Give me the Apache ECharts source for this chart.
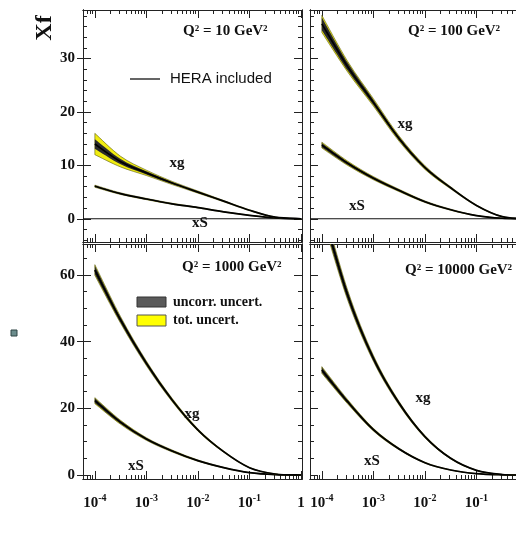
<!DOCTYPE html>
<html><head><meta charset="utf-8">
<script src="https://cdn.jsdelivr.net/npm/echarts@6/dist/echarts.min.js"></script>
<style>html,body{margin:0;padding:0;background:#fff;overflow:hidden}#c{width:516px;height:539px}</style>
</head><body><div id="c"></div>
<script>
// x positions as exponents: x = 10^xExp
const xExp = [-4, -3.5, -3, -2.5, -2, -1.5, -1, -0.5, 0];
const q2Labels = ['10', '100', '1000', '10000'];
const xTickLabels = [-4, -3, -2, -1, 0];
const yTickTop = [0, 10, 20, 30];
const yTickBottom = [0, 20, 40, 60];

// Q2 = 10 GeV2
const xg10 = [14.0, 10.7, 8.6, 6.7, 5.0, 3.3, 1.6, 0.3, 0];
const xg10Tot = [2.0, 1.0, 0.5, 0.3, 0.2, 0.12, 0.08, 0.05, 0];
const xg10Unc = [0.9, 0.5, 0.3, 0.2, 0.12, 0.08, 0.05, 0.03, 0];
const xS10 = [6.1, 4.7, 3.7, 2.8, 2.1, 1.3, 0.65, 0.15, 0];
const xS10Tot = [0.2, 0.15, 0.12, 0.1, 0.08, 0.06, 0.04, 0.02, 0];
const xS10Unc = [0.12, 0.1, 0.08, 0.06, 0.05, 0.04, 0.03, 0.01, 0];
// Q2 = 100 GeV2
const xg100 = [36.5, 28.5, 21.8, 15.0, 9.6, 5.8, 2.5, 0.4, 0];
const xg100Tot = [1.6, 1.0, 0.7, 0.5, 0.35, 0.2, 0.1, 0.05, 0];
const xg100Unc = [1.2, 0.75, 0.5, 0.35, 0.25, 0.15, 0.08, 0.04, 0];
const xS100 = [13.8, 10.4, 7.6, 5.3, 3.2, 1.7, 0.6, 0.1, 0];
const xS100Tot = [0.55, 0.4, 0.3, 0.22, 0.15, 0.1, 0.05, 0.02, 0];
const xS100Unc = [0.4, 0.3, 0.22, 0.16, 0.11, 0.07, 0.04, 0.01, 0];
// Q2 = 1000 GeV2
const xg1000 = [61.5, 46.5, 33.5, 22.5, 13.5, 7.0, 2.2, 0.3, 0];
const xg1000Tot = [1.6, 1.0, 0.7, 0.5, 0.35, 0.2, 0.1, 0.04, 0];
const xg1000Unc = [1.3, 0.8, 0.55, 0.4, 0.27, 0.15, 0.07, 0.03, 0];
const xS1000 = [22.3, 15.8, 10.8, 7.2, 4.3, 2.2, 0.7, 0.1, 0];
const xS1000Tot = [0.9, 0.6, 0.4, 0.3, 0.2, 0.12, 0.06, 0.02, 0];
const xS1000Unc = [0.7, 0.45, 0.3, 0.22, 0.15, 0.09, 0.04, 0.01, 0];
// Q2 = 10000 GeV2
const xg10000 = [80, 54, 35, 21.5, 11.5, 5.0, 1.4, 0.15, 0];
const xg10000Tot = [2.4, 1.5, 0.9, 0.55, 0.33, 0.2, 0.09, 0.04, 0];
const xg10000Unc = [2.0, 1.3, 0.8, 0.5, 0.3, 0.18, 0.08, 0.03, 0];
const xS10000 = [31.5, 22.0, 13.6, 7.8, 3.7, 1.5, 0.4, 0.05, 0];
const xS10000Tot = [1.0, 0.65, 0.4, 0.25, 0.15, 0.08, 0.04, 0.01, 0];
const xS10000Unc = [0.8, 0.5, 0.32, 0.2, 0.12, 0.06, 0.03, 0.01, 0];

const panels = [
  {xg: xg10, xgT: xg10Tot, xgU: xg10Unc, xS: xS10, xST: xS10Tot, xSU: xS10Unc},
  {xg: xg100, xgT: xg100Tot, xgU: xg100Unc, xS: xS100, xST: xS100Tot, xSU: xS100Unc},
  {xg: xg1000, xgT: xg1000Tot, xgU: xg1000Unc, xS: xS1000, xST: xS1000Tot, xSU: xS1000Unc},
  {xg: xg10000, xgT: xg10000Tot, xgU: xg10000Unc, xS: xS10000, xST: xS10000Tot, xSU: xS10000Unc}
];

const X_MIN = -4.23, X_MAX = 0.02;
const Y_TOP = [-4.35, 39.1], Y_BOT = [-1.2, 69.3];
const grids = [
  {left: 83, top: 10, width: 219, height: 232, outerBoundsMode: 'none', containLabel: false},
  {left: 310, top: 10, width: 219, height: 232, outerBoundsMode: 'none', containLabel: false},
  {left: 83, top: 244, width: 219, height: 235, outerBoundsMode: 'none', containLabel: false},
  {left: 310, top: 244, width: 219, height: 235, outerBoundsMode: 'none', containLabel: false}
];

const xMinor = [];
for (let n = -5; n <= -1; n++) for (let k = 2; k <= 9; k++) {
  const v = n + Math.log10(k);
  if (v > X_MIN && v < X_MAX) xMinor.push(v);
}
function yMinor(range, step, majors) {
  const out = [];
  for (let v = Math.ceil(range[0] / step) * step; v <= range[1]; v += step) {
    if (majors.indexOf(v) < 0) out.push(v);
  }
  return out;
}

const AX = '#222';
const serif = '"Liberation Serif", "DejaVu Serif", serif';
const labRich = {
  b: {fontFamily: serif, fontWeight: 'bold', fontSize: 15, color: '#111', lineHeight: 18, verticalAlign: 'bottom'},
  s: {fontFamily: serif, fontWeight: 'bold', fontSize: 10, color: '#111', lineHeight: 10, verticalAlign: 'top'}
};

const xAxes = [], yAxes = [];
grids.forEach((g, gi) => {
  const bottomRow = gi >= 2, leftCol = gi % 2 === 0;
  const yr = bottomRow ? Y_BOT : Y_TOP;
  const ymaj = bottomRow ? yTickBottom : yTickTop;
  const ymin = yMinor(yr, bottomRow ? 5 : 2, ymaj);
  const xa = (pos, vals, len, lab) => ({
    type: 'value', gridIndex: gi, position: pos, min: X_MIN, max: X_MAX,
    axisLine: {show: true, onZero: false, lineStyle: {color: AX, width: 1}},
    axisTick: {show: true, inside: true, length: len, customValues: vals, lineStyle: {color: AX, width: 1}},
    axisLabel: lab ? {show: true, customValues: xTickLabels, margin: 14, rich: labRich, hideOverlap: false,
      formatter: v => Math.abs(v) < 1e-9 ? '{b|1}' : '{b|10}{s|' + Math.round(v) + '}'} : {show: false},
    splitLine: {show: false}
  });
  xAxes.push(xa('bottom', xTickLabels, 8, bottomRow));
  xAxes.push(xa('bottom', xMinor, 4, false));
  xAxes.push(xa('top', xTickLabels, 8, false));
  xAxes.push(xa('top', xMinor, 4, false));
  const ya = (pos, vals, len, lab, inside, showTick) => ({
    type: 'value', gridIndex: gi, position: pos, min: yr[0], max: yr[1],
    axisLine: {show: true, onZero: false, lineStyle: {color: AX, width: 1}},
    axisTick: {show: showTick, inside: inside, length: len, customValues: vals, lineStyle: {color: AX, width: 1}},
    axisLabel: lab ? {show: true, customValues: ymaj, margin: 8, fontFamily: serif, fontWeight: 'bold', fontSize: 15, color: '#111'} : {show: false},
    splitLine: {show: false}
  });
  yAxes.push(ya('left', ymaj, 8, leftCol, true, true));
  yAxes.push(ya('left', ymin, 4, false, true, true));
  yAxes.push(ya('right', ymaj, 8, false, true, true));
  yAxes.push(ya('right', ymin, 4, false, true, true));
  yAxes.push(ya('left', ymaj, 6, false, false, leftCol));
});

function crSegs(p) {
  let d = '';
  for (let i = 0; i < p.length - 1; i++) {
    const p0 = p[i - 1] || p[i], p1 = p[i], p2 = p[i + 1], p3 = p[i + 2] || p[i + 1];
    const c1 = [p1[0] + (p2[0] - p0[0]) / 6, p1[1] + (p2[1] - p0[1]) / 6];
    const c2 = [p2[0] - (p3[0] - p1[0]) / 6, p2[1] - (p3[1] - p1[1]) / 6];
    d += ' C' + c1[0] + ',' + c1[1] + ' ' + c2[0] + ',' + c2[1] + ' ' + p2[0] + ',' + p2[1];
  }
  return d;
}
function linePath(p) { return 'M' + p[0][0] + ',' + p[0][1] + crSegs(p); }
function bandPath(up, lo) {
  const r = lo.slice().reverse();
  return linePath(up) + ' L' + r[0][0] + ',' + r[0][1] + crSegs(r) + ' Z';
}

function renderCurve(params, api) {
  if (params.dataIndexInside !== 0) return null;
  const n = params.dataInsideLength;
  const up = [], lo = [], uu = [], ul = [], c = [];
  for (let i = 0; i < n; i++) {
    const x = api.value(0, i), y = api.value(1, i), t = api.value(2, i), u = api.value(3, i);
    up.push(api.coord([x, y + t])); lo.push(api.coord([x, y - t]));
    uu.push(api.coord([x, y + u])); ul.push(api.coord([x, y - u]));
    c.push(api.coord([x, y]));
  }
  const cs = params.coordSys;
  return {
    type: 'group',
    clipPath: {type: 'rect', shape: {x: cs.x, y: cs.y, width: cs.width, height: cs.height}},
    children: [
      {type: 'path', shape: {pathData: bandPath(up, lo)}, style: {fill: '#f0ec10', stroke: '#5a5a18', lineWidth: 0.6}},
      {type: 'path', shape: {pathData: bandPath(uu, ul)}, style: {fill: '#2b2b2b', stroke: null}},
      {type: 'path', shape: {pathData: linePath(c)}, style: {fill: null, stroke: '#000', lineWidth: 1.7}}
    ]
  };
}

const series = [];
panels.forEach((p, gi) => {
  if (gi < 2) {
    series.push({type: 'line', xAxisIndex: gi * 4, yAxisIndex: gi * 5, data: [[X_MIN, 0], [X_MAX, 0]],
      symbol: 'none', silent: true, animation: false, lineStyle: {color: '#111', width: 1.2}, z: 1});
  }
  [['xS', 'xST', 'xSU'], ['xg', 'xgT', 'xgU']].forEach(k => {
    series.push({
      type: 'custom', xAxisIndex: gi * 4, yAxisIndex: gi * 5, clip: true, animation: false, silent: true,
      data: xExp.map((x, i) => [x, p[k[0]][i], p[k[1]][i], p[k[2]][i]]),
      encode: {x: 0, y: 1},
      renderItem: renderCurve, z: 3
    });
  });
});

const tFont = (sz) => 'bold ' + sz + 'px ' + serif;
const txt = (x, y, text, font, align) => ({type: 'text', x: x, y: y, z: 100,
  style: {text: text, font: font, fill: '#111', align: align || 'left', verticalAlign: 'middle'}});

const graphic = [
  {type: 'text', x: 45, y: 28, rotation: Math.PI / 2, z: 100,
    style: {text: 'Xf', font: tFont(24), fill: '#111', align: 'center', verticalAlign: 'middle'}},
  txt(183, 31, 'Q² = ' + q2Labels[0] + ' GeV²', tFont(15)),
  txt(408, 31, 'Q² = ' + q2Labels[1] + ' GeV²', tFont(15)),
  txt(182, 267, 'Q² = ' + q2Labels[2] + ' GeV²', tFont(15)),
  txt(405, 270, 'Q² = ' + q2Labels[3] + ' GeV²', tFont(15)),
  {type: 'line', z: 100, shape: {x1: 130, y1: 79, x2: 160, y2: 79}, style: {stroke: '#111', lineWidth: 1.3}},
  txt(170, 79, 'HERA included', '15px "Liberation Sans", Arial, sans-serif'),
  {type: 'rect', z: 100, shape: {x: 137, y: 297, width: 29, height: 10}, style: {fill: '#5a5a5a', stroke: '#333', lineWidth: 1}},
  {type: 'rect', z: 100, shape: {x: 137, y: 315, width: 29, height: 11}, style: {fill: '#ffff00', stroke: '#555', lineWidth: 1}},
  txt(173, 302, 'uncorr. uncert.', tFont(14)),
  txt(173, 320, 'tot. uncert.', tFont(14)),
  txt(177, 163, 'xg', tFont(15), 'center'),
  txt(200, 223, 'xS', tFont(15), 'center'),
  txt(405, 124, 'xg', tFont(15), 'center'),
  txt(357, 206, 'xS', tFont(15), 'center'),
  txt(192, 414, 'xg', tFont(15), 'center'),
  txt(136, 466, 'xS', tFont(15), 'center'),
  txt(423, 398, 'xg', tFont(15), 'center'),
  txt(372, 461, 'xS', tFont(15), 'center'),
  {type: 'rect', z: 100, shape: {x: 11, y: 330, width: 6, height: 6}, style: {fill: '#6b8c8c', stroke: '#2f4545', lineWidth: 1}}
];

const chart = echarts.init(document.getElementById('c'), null, {renderer: 'canvas'});
chart.setOption({
  animation: false,
  backgroundColor: '#fff',
  grid: grids,
  xAxis: xAxes,
  yAxis: yAxes,
  series: series,
  graphic: graphic
});
</script>
</body></html>
